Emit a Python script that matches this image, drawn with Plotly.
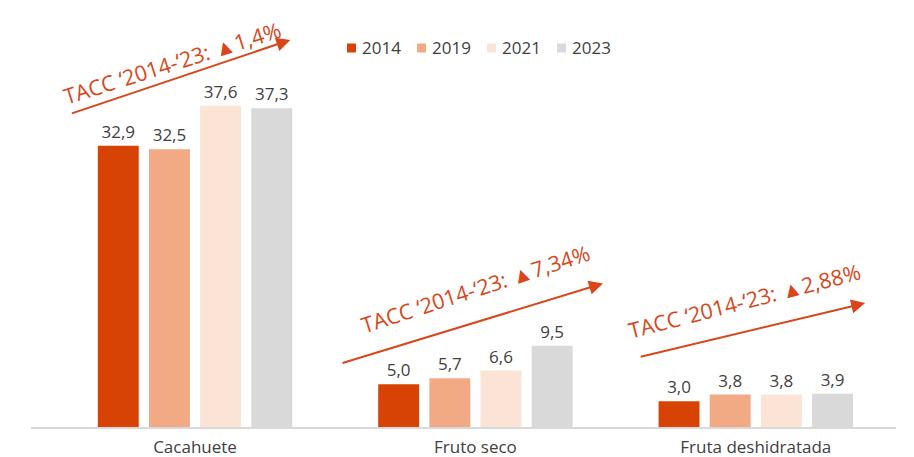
import plotly.graph_objects as go

categories = ["Cacahuete", "Fruto seco", "Fruta deshidratada"]
years = ["2014", "2019", "2021", "2023"]
values_2014 = [32.9, 5.0, 3.0]
values_2019 = [32.5, 5.7, 3.8]
values_2021 = [37.6, 6.6, 3.8]
values_2023 = [37.3, 9.5, 3.9]
series = [values_2014, values_2019, values_2021, values_2023]
colors = ["#D64304", "#F2AA84", "#FBE3D6", "#D9D9D9"]

tacc_labels = ["TACC \u20182014-\u201823: \u25B21,4%",
               "TACC \u20182014-\u201823: \u25B27,34%",
               "TACC \u20182014-\u201823: \u25B22,88%"]

FONT = "'Open Sans', Lato, sans-serif"
TXT = "#404040"
ACC = "#D9461A"

# The page places the figure 8px in from the top-left corner (body margin)
W, H = 906, 449
ML, MR, MT, MB = 23, 18, 2, 30
PW = W - ML - MR
PH = H - MT - MB

fig = go.Figure()
for yr, vals, col in zip(years, series, colors):
    fig.add_trace(go.Bar(
        name=yr, x=categories, y=vals, marker_color=col,
        marker_line_width=0,
        texttemplate="%{y:.1f}", textposition="outside",
        textfont=dict(size=17, color=TXT, family=FONT),
        cliponaxis=False, showlegend=False,
    ))

# decorative trend arrows + labels (in category index / data units)
text_pos = [(-0.08, 42.6, -17.5), (1.0, 16.2, -18.0), (1.96, 14.8, -14.5)]
arrow_pos = [(0.34, 45.3, -220, 74), (1.455, 16.8, -262, 80), (2.39, 14.5, -226, 54)]
for lbl, (tx, ty, ang), (hx, hy, axp, ayp) in zip(tacc_labels, text_pos, arrow_pos):
    fig.add_annotation(x=tx, y=ty, text=lbl, showarrow=False, textangle=ang,
                       font=dict(size=21.5, color=ACC, family=FONT))
    fig.add_annotation(x=hx, y=hy, ax=axp, ay=ayp, text="", showarrow=True,
                       arrowhead=2, arrowsize=1.4, arrowwidth=2, arrowcolor=ACC)

# legend drawn as squares + labels (pixel layout converted to paper units)
leg_x0, leg_step, leg_yc, sq = 339, 70, 40, 9
for i, (yr, col) in enumerate(zip(years, colors)):
    px = leg_x0 + i * leg_step - ML
    fig.add_shape(type="rect", xref="paper", yref="paper",
                  x0=px / PW, x1=(px + sq) / PW,
                  y0=1 - (leg_yc + sq / 2 - MT) / PH, y1=1 - (leg_yc - sq / 2 - MT) / PH,
                  fillcolor=col, line_width=0)
    fig.add_annotation(xref="paper", yref="paper", x=(px + sq + 4) / PW,
                       y=1 - (leg_yc - MT) / PH, xanchor="left", yanchor="middle",
                       text=yr, showarrow=False,
                       font=dict(size=17, color=TXT, family=FONT))

fig.update_layout(
    width=W, height=H,
    margin=dict(l=ML, r=MR, t=MT, b=MB, autoexpand=False),
    paper_bgcolor="white", plot_bgcolor="white",
    barmode="group", bargap=0.27, bargroupgap=0.2,
    separators=", ",
    font=dict(family=FONT, color=TXT, size=17),
    showlegend=False,
    xaxis=dict(range=[-0.585, 2.5], showline=True, linecolor="#D9D9D9", linewidth=1.5,
               ticks="", showgrid=False, ticklabelstandoff=4,
               tickfont=dict(size=17, color=TXT, family=FONT)),
    yaxis=dict(range=[0, 48.8], visible=False, showgrid=False),
)

fig.write_html("out.html")
